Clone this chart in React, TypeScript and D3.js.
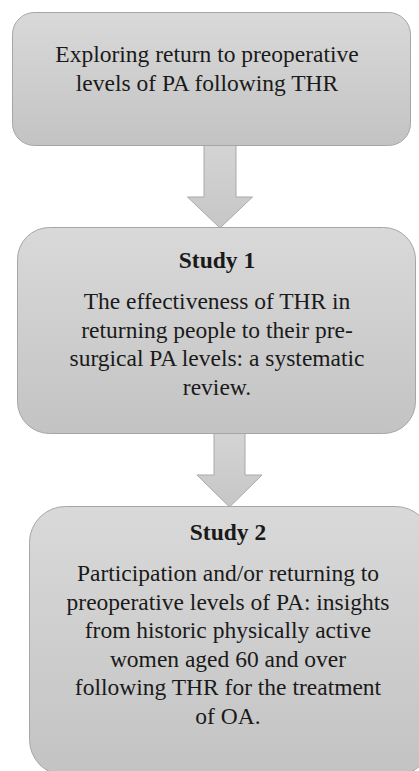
import * as d3 from 'd3';

// Flowchart content
const boxTitles = ['', 'Study 1', 'Study 2'];
const boxLines = [
  ['Exploring return to preoperative', 'levels of PA following THR'],
  [
    'The effectiveness of THR in',
    'returning people to their pre-',
    'surgical PA levels: a systematic',
    'review.',
  ],
  [
    'Participation and/or returning to',
    'preoperative levels of PA: insights',
    'from historic physically active',
    'women aged 60 and over',
    'following THR for the treatment',
    'of OA.',
  ],
];

const WIDTH = 419;
const HEIGHT = 771;
const FONT = 'Liberation Serif, DejaVu Serif, Times New Roman, serif';
const FONT_SIZE = 23.5;
const LINE_H = 28.5;

// layout of each box (px)
const boxes = [
  { x: 12, y: 12, w: 398, h: 133, r: 22, tx: 207, firstBase: 62 },
  { x: 17, y: 227, w: 398, h: 206, r: 32, tx: 217, firstBase: 268 },
  { x: 29, y: 506, w: 402, h: 269, r: 36, tx: 228, firstBase: 540 },
];

const arrows = [
  { cx: 220, top: 145, neck: 197, tip: 228, shaft: 16, head: 32.5 },
  { cx: 229.5, top: 433, neck: 475, tip: 507, shaft: 15.5, head: 32.5 },
];

const arrowLine = d3.line<[number, number]>();

export default function App() {
  return (
    <div style={{ position: 'absolute', left: 0, top: 0 }}>
      <svg width={WIDTH} height={HEIGHT} style={{ display: 'block' }}>
        <defs>
          <linearGradient id="boxFill" x1="0" y1="0" x2="0" y2="1">
            <stop offset="0%" stopColor="#d9d9d9" />
            <stop offset="100%" stopColor="#c3c3c3" />
          </linearGradient>
          <linearGradient id="arrowFill" x1="0" y1="0" x2="0" y2="1">
            <stop offset="0%" stopColor="#d4d4d4" />
            <stop offset="100%" stopColor="#c6c6c6" />
          </linearGradient>
        </defs>
        {arrows.map((a, i) => {
          const pts: [number, number][] = [
            [a.cx - a.shaft, a.top],
            [a.cx + a.shaft, a.top],
            [a.cx + a.shaft, a.neck],
            [a.cx + a.head, a.neck],
            [a.cx, a.tip],
            [a.cx - a.head, a.neck],
            [a.cx - a.shaft, a.neck],
          ];
          return (
            <path
              key={'a' + i}
              d={arrowLine(pts)! + 'Z'}
              fill="url(#arrowFill)"
              stroke="#a9a9a9"
              strokeWidth={1}
            />
          );
        })}
        {boxes.map((b, i) => {
          const title = boxTitles[i];
          const lines = boxLines[i];
          const bodyStart = title ? b.firstBase + 41 : b.firstBase;
          return (
            <g key={'b' + i}>
              <rect
                x={b.x + 0.5}
                y={b.y + 0.5}
                width={b.w}
                height={b.h}
                rx={b.r}
                ry={b.r}
                fill="url(#boxFill)"
                stroke="#a6a6a6"
                strokeWidth={1}
              />
              {title && (
                <text
                  x={b.tx}
                  y={b.firstBase}
                  textAnchor="middle"
                  style={{ fontFamily: FONT, fontWeight: 'bold', fontSize: 23.5 }}
                  fill="#1a1a1a"
                >
                  {title}
                </text>
              )}
              {lines.map((l, j) => (
                <text
                  key={j}
                  x={b.tx}
                  y={bodyStart + j * LINE_H}
                  textAnchor="middle"
                  style={{ fontFamily: FONT, fontSize: FONT_SIZE }}
                  fill="#1a1a1a"
                >
                  {l}
                </text>
              ))}
            </g>
          );
        })}
      </svg>
    </div>
  );
}
